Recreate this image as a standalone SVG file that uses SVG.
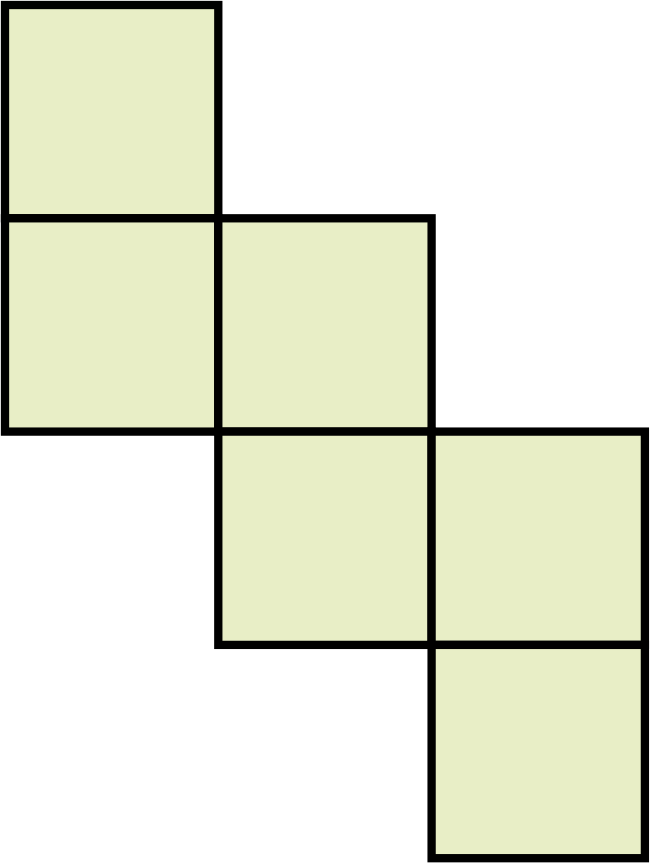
<svg xmlns="http://www.w3.org/2000/svg" width="650" height="863" viewBox="0 0 650 863">
<style>.f{fill:#e8eec6;stroke:#000;stroke-width:8.3;stroke-linejoin:miter}</style>
<rect width="650" height="863" fill="#fff"/>
<g id="face1"><rect class="f" x="5" y="5" width="213.3" height="213.3"/></g>
<g id="face2"><rect class="f" x="5" y="218.3" width="213.3" height="213.3"/></g>
<g id="face3"><rect class="f" x="218.3" y="218.3" width="213.3" height="213.3"/></g>
<g id="face4"><rect class="f" x="218.3" y="431.6" width="213.3" height="213.3"/></g>
<g id="face5"><rect class="f" x="431.6" y="431.6" width="213.3" height="213.3"/></g>
<g id="face6"><rect class="f" x="431.6" y="644.9" width="213.3" height="213.3"/></g>
</svg>
